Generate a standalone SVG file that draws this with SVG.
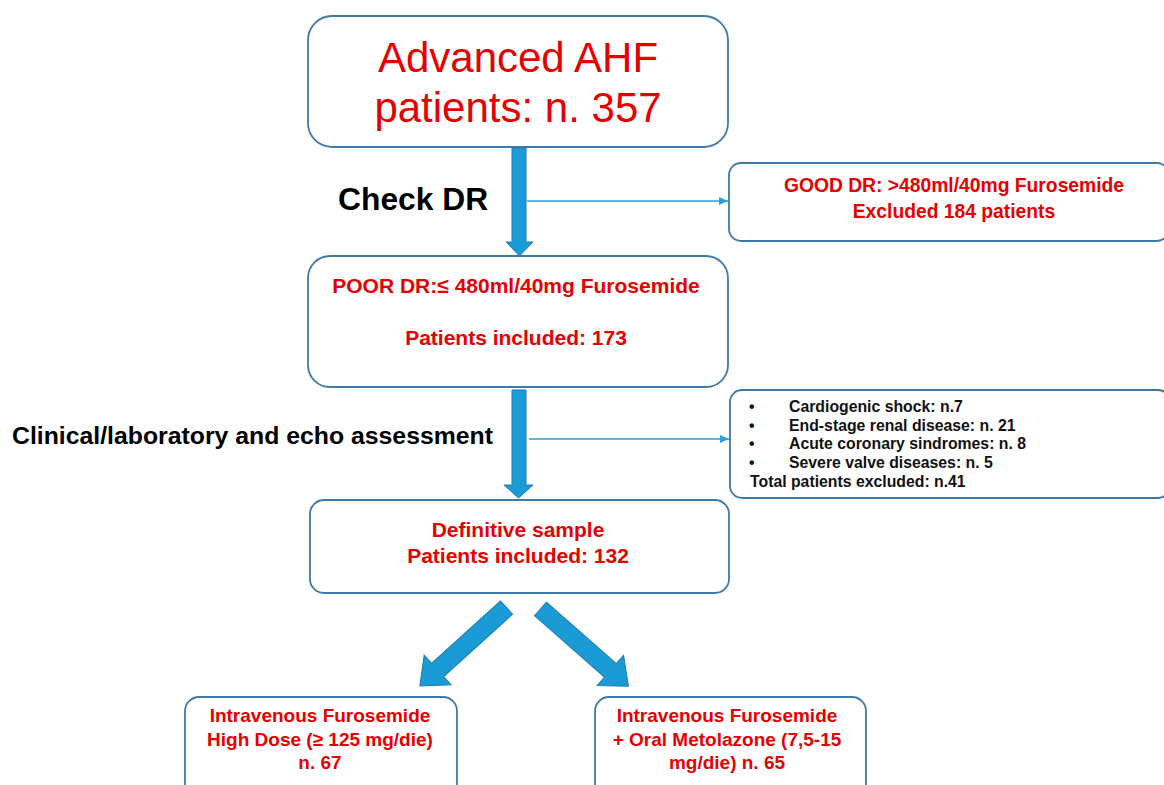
<svg xmlns="http://www.w3.org/2000/svg" width="1164" height="785" viewBox="0 0 1164 785">
<defs>
<style>
.box{fill:#fff;stroke:#3f7aa6;stroke-width:1.8}
.red{fill:#e60000;font-family:"Liberation Sans",Arial,sans-serif;text-anchor:middle}
.b{font-weight:bold}
.blk{fill:#000;font-family:"Liberation Sans",Arial,sans-serif;font-weight:bold}
.lst{fill:#111;font-family:"Liberation Sans",Arial,sans-serif;font-weight:bold;font-size:15.8px}
.fat{fill:#1b9bd6;stroke:#1a7db2;stroke-width:1}
.thin{stroke:#2e9fd8;stroke-width:1.6;fill:none}
</style>
<marker id="ah" markerWidth="10" markerHeight="10" refX="9" refY="5" orient="auto" markerUnits="userSpaceOnUse">
<path d="M0,1 L9,5 L0,9 Z" fill="#2e9fd8"/>
</marker>
</defs>
<rect width="1164" height="785" fill="#fff"/>

<g id="connectors">
<polygon class="fat" points="512,148 526,148 526,242 533,242 519.5,256 506,242 512,242"/>
<polygon class="fat" points="512,390 526,390 526,485 533,485 518.5,498 504,485 512,485"/>
<polygon class="fat" transform="translate(506.5,607.5) rotate(137.8)" points="0,-9 93,-9 93,-20 117,0 93,20 93,9 0,9"/>
<polygon class="fat" transform="translate(540.5,609) rotate(41.3)" points="0,-9 93,-9 93,-20 117,0 93,20 93,9 0,9"/>
<line class="thin" x1="527" y1="201" x2="728" y2="201" marker-end="url(#ah)"/>
<line class="thin" x1="529" y1="439" x2="729" y2="439" marker-end="url(#ah)"/>
<text class="blk" x="338" y="210" font-size="31.8">Check DR</text>
<text class="blk" x="12" y="444" font-size="24.8">Clinical/laboratory and echo assessment</text>
</g>

<g id="start">
<rect class="box" x="308" y="16" width="420" height="131" rx="24"/>
<text class="red" x="518" y="72" font-size="42">Advanced AHF</text>
<text class="red" x="518" y="122" font-size="42">patients: n. 357</text>
</g>

<g id="good">
<rect class="box" x="729" y="163" width="440" height="78" rx="12"/>
<text class="red b" x="954" y="192" font-size="19.3">GOOD DR: &gt;480ml/40mg Furosemide</text>
<text class="red b" x="954" y="218" font-size="19.3">Excluded 184 patients</text>
</g>

<g id="poor">
<rect class="box" x="308" y="256" width="420" height="131" rx="22"/>
<text class="red b" x="516" y="293" font-size="21">POOR DR:≤ 480ml/40mg Furosemide</text>
<text class="red b" x="516" y="345" font-size="21">Patients included: 173</text>
</g>

<g id="excluded">
<rect class="box" x="730" y="390" width="440" height="108" rx="12"/>
<text class="lst" x="749" y="412">•</text>
<text class="lst" x="789" y="412">Cardiogenic shock: n.7</text>
<text class="lst" x="749" y="430.5">•</text>
<text class="lst" x="789" y="430.5">End-stage renal disease: n. 21</text>
<text class="lst" x="749" y="449">•</text>
<text class="lst" x="789" y="449">Acute coronary sindromes: n. 8</text>
<text class="lst" x="749" y="468">•</text>
<text class="lst" x="789" y="468">Severe valve diseases: n. 5</text>
<text class="lst" x="750" y="487">Total patients excluded: n.41</text>
</g>

<g id="definitive">
<rect class="box" x="310" y="500" width="419" height="93" rx="14"/>
<text class="red b" x="518" y="537" font-size="21">Definitive sample</text>
<text class="red b" x="518" y="563" font-size="21">Patients included: 132</text>
</g>

<g id="highdose">
<rect class="box" x="185" y="697" width="272" height="110" rx="14"/>
<text class="red b" x="320" y="722" font-size="19">Intravenous Furosemide</text>
<text class="red b" x="320" y="746" font-size="19">High Dose (≥ 125 mg/die)</text>
<text class="red b" x="320" y="769" font-size="19">n. 67</text>
</g>

<g id="metolazone">
<rect class="box" x="595" y="697" width="271" height="110" rx="14"/>
<text class="red b" x="727" y="722" font-size="19">Intravenous Furosemide</text>
<text class="red b" x="727" y="746" font-size="19">+ Oral Metolazone (7,5-15</text>
<text class="red b" x="727" y="769" font-size="19">mg/die) n. 65</text>
</g>
</svg>
